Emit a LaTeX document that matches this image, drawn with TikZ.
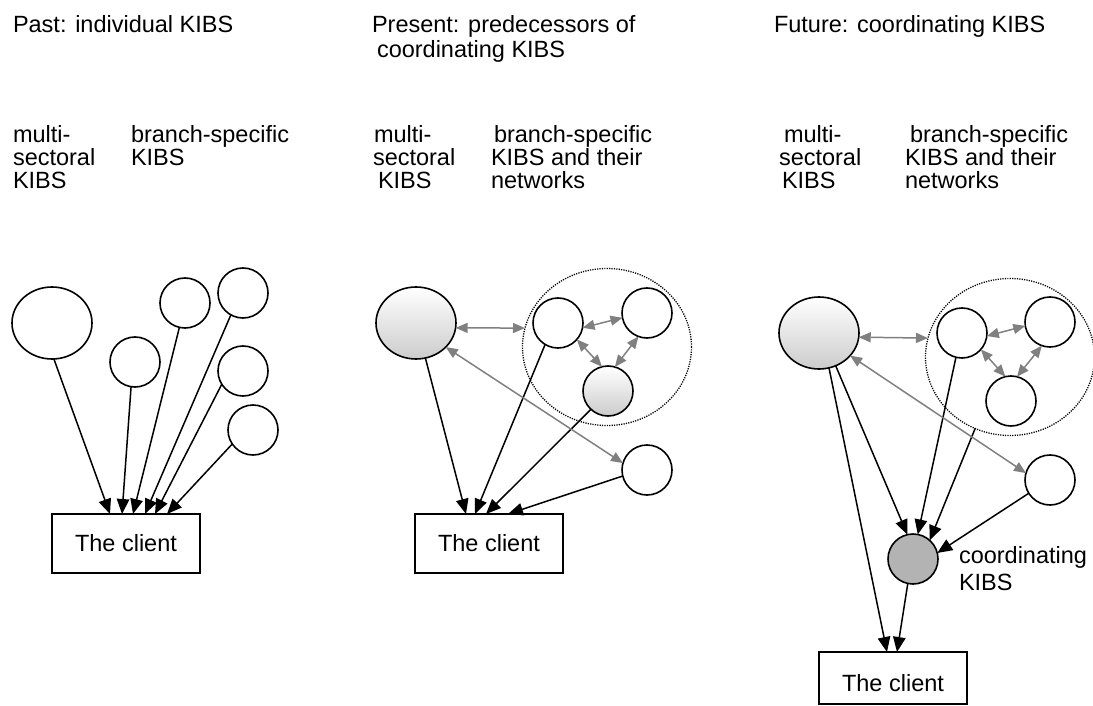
\documentclass[tikz,border=0pt]{standalone}
\usepackage{fontspec}
\setmainfont{Liberation Sans}
\usetikzlibrary{arrows.meta,calc,shapes.geometric}

\definecolor{linkgray}{HTML}{808080}
\definecolor{coordgray}{HTML}{B3B3B3}
\definecolor{shadegray}{HTML}{CCCCCC}

\tikzset{
  txt/.style={anchor=base west, inner sep=0pt, outer sep=0pt,
    font=\fontsize{23.5}{24}\selectfont},
  kibs/.style={circle, draw, line width=1.6pt, fill=white,
    minimum size=50pt, inner sep=0pt, outer sep=0pt},
  multi/.style={ellipse, draw, line width=1.6pt, fill=white,
    minimum width=80pt, minimum height=72pt, inner sep=0pt, outer sep=0pt},
  shaded/.style={top color=white, bottom color=shadegray},
  client/.style={rectangle, draw, line width=1.6pt, fill=white,
    minimum width=148pt, minimum height=59pt, inner sep=0pt, outer sep=0pt,
    font=\fontsize{23.5}{24}\selectfont},
  net/.style={ellipse, draw, line width=1.3pt, dash pattern=on 1.2pt off 1.2pt,
    minimum width=169pt, minimum height=157pt, inner sep=0pt, outer sep=0pt},
  flow/.style={-{Triangle[length=15pt,width=12.5pt]}, line width=1.5pt},
  link/.style={{Triangle[length=12pt,width=10pt]}-{Triangle[length=12pt,width=10pt]},
    line width=1.5pt, draw=linkgray, color=linkgray},
}

\begin{document}
\begin{tikzpicture}[x=1pt,y=-1pt]
\useasboundingbox (0,0) rectangle (1093,706);

% ---------- headings ----------
\node[txt] (hpast) at (13,33) {Past: individual KIBS};
\node[txt] (hpres1) at (372,33) {Present: predecessors of};
\node[txt] (hpres2) at (377,58) {coordinating KIBS};
\node[txt] (hfut) at (774,33) {Future: coordinating KIBS};

% ---------- column labels ----------
\node[txt] (pl1) at (13,143) {multi-};
\node[txt] (pl2) at (13,166) {sectoral};
\node[txt] (pl3) at (13,189) {KIBS};
\node[txt] (pr1) at (131,143) {branch-specific};
\node[txt] (pr2) at (131,166) {KIBS};

\node[txt] (nl1) at (374,143) {multi-};
\node[txt] (nl2) at (373,166) {sectoral};
\node[txt] (nl3) at (378,189) {KIBS};
\node[txt] (nr1) at (494,143) {branch-specific};
\node[txt] (nr2) at (491,166) {KIBS and their};
\node[txt] (nr3) at (491,189) {networks};

\node[txt] (fl1) at (784,143) {multi-};
\node[txt] (fl2) at (779,166) {sectoral};
\node[txt] (fl3) at (782,189) {KIBS};
\node[txt] (fr1) at (910,143) {branch-specific};
\node[txt] (fr2) at (905,166) {KIBS and their};
\node[txt] (fr3) at (905,189) {networks};

% ---------- past: individual KIBS ----------
\node[multi] (pm) at (52,323) {};
\node[kibs] (pa) at (135,362) {};
\node[kibs] (pb) at (185,303) {};
\node[kibs] (pc) at (243,293) {};
\node[kibs] (pd) at (243,371) {};
\node[kibs] (pe) at (253,430) {};
\node[client] (pcl) at (126,543.5) {The client};

\draw[flow] (pm.-87)  -- ([xshift=58pt]pcl.north west);
\draw[flow] (pa.-99)  -- ([xshift=70pt]pcl.north west);
\draw[flow] (pb.-103) -- ([xshift=81pt]pcl.north west);
\draw[flow] (pc.-119) -- ([xshift=93pt]pcl.north west);
\draw[flow] (pd.-148) -- ([xshift=103pt]pcl.north west);
\draw[flow] (pe.-146) -- ([xshift=115pt]pcl.north west);

% ---------- present: predecessors ----------
\node[net] (nnet) at (607,347) {};
\node[multi, shaded] (nm) at (416,323) {};
\node[kibs] (n1) at (558,323) {};
\node[kibs] (n2) at (647,313) {};
\node[kibs, shaded] (n3) at (608,391) {};
\node[kibs] (nq) at (647,470) {};
\node[client] (ncl) at (489,543.5) {The client};

\draw[flow] (nm.-75)  -- ([xshift=51pt]ncl.north west);
\draw[flow] (n1.-121) -- ([xshift=60pt]ncl.north west);
\draw[flow] (n3.-133) -- ([xshift=71pt]ncl.north west);
\draw[flow] (nq.-166) -- ([xshift=93pt]ncl.north west);

\draw[link] (nm.-7)   -- (nnet.167);
\draw[link] (nm.-39)  -- (nq.164);
\draw[link] (n1.-11)  -- (n2.-169);
\draw[link] (n1.-41)  -- (n3.104);
\draw[link] (n2.-110) -- (n3.74);

% ---------- future: coordinating KIBS ----------
\node[net] (fnet) at (1010,357) {};
\node[multi, shaded] (fm) at (819,333) {};
\node[kibs] (f1) at (962,333) {};
\node[kibs] (f2) at (1050,322) {};
\node[kibs] (f3) at (1011,401) {};
\node[kibs] (fq) at (1050,480) {};
\node[kibs, fill=coordgray] (fc) at (913,559) {};
\node[client, minimum height=52pt, text height=27pt, text depth=0pt] (fcl) at (893,678) {The client};
\node[txt] (fc1) at (959,563) {coordinating};
\node[txt] (fc2) at (959,590) {KIBS};

\draw[flow] (fm.-74)   -- ([xshift=68pt]fcl.north west);
\draw[flow] (fm.-63)   -- (fc.103);
\draw[flow] (f1.-104)  -- (fc.79);
\draw[flow] (fnet.-116) -- (fc.48);
\draw[flow] (fq.-148)  -- (fc.14);
\draw[flow] (fc.-102)  -- ([xshift=78pt]fcl.north west);

\draw[link] (fm.-6)   -- (fnet.167);
\draw[link] (fm.-36)  -- (fq.164);
\draw[link] (f1.-7)   -- (f2.-171);
\draw[link] (f1.-41)  -- (f3.103);
\draw[link] (f2.-109) -- (f3.76);
\end{tikzpicture}
\end{document}
